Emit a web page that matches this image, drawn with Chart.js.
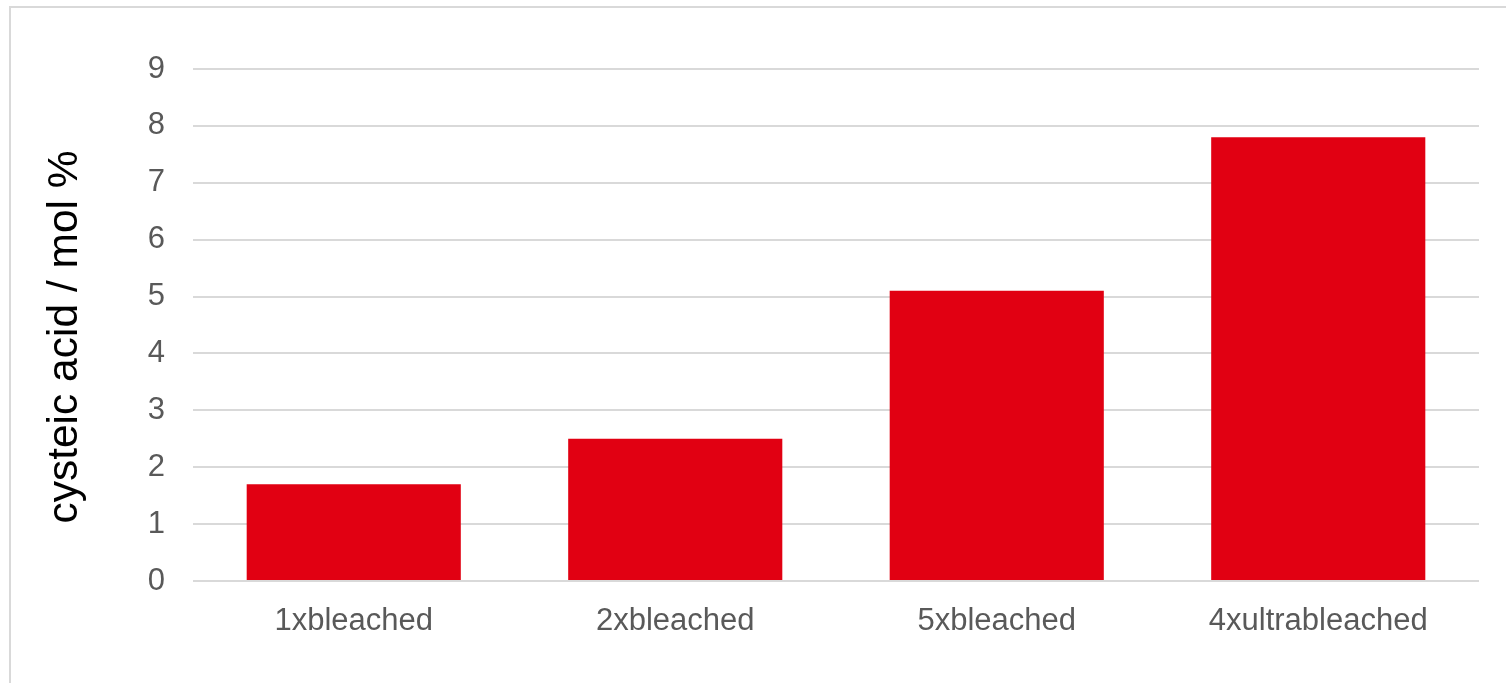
<!DOCTYPE html>
<html>
<head>
<meta charset="utf-8">
<script src="https://cdn.jsdelivr.net/npm/chart.js@4/dist/chart.umd.min.js"></script>
<style>
  html, body { margin: 0; padding: 0; background: #fff; }
  #wrap { position: relative; width: 1506px; height: 683px; overflow: hidden; }
  #frame {
    position: absolute; left: 9px; top: 6px; width: 1520px; height: 700px;
    border: 2px solid #d9d9d9; box-sizing: border-box;
  }
  #chart { position: absolute; left: 0; top: 0; }
</style>
</head>
<body>
<div id="wrap">
  <div id="frame"></div>
  <canvas id="chart" width="1506" height="683"></canvas>
</div>
<script>
// Categories and values
const categories = ['1xbleached', '2xbleached', '5xbleached', '4xultrableached'];
const cysteicAcid = [1.7, 2.5, 5.1, 7.8];
const yTicks = [0, 1, 2, 3, 4, 5, 6, 7, 8, 9];
const yTitle = 'cysteic acid / mol %';

const FONT = '"Liberation Sans", Arial, sans-serif';

// Rotated y-axis title, drawn a little below the plot centre
const yTitlePlugin = {
  id: 'yTitle',
  afterDraw(chart) {
    const c = chart.ctx;
    const area = chart.chartArea;
    c.save();
    c.translate(65, (area.top + area.bottom) / 2 + 12);
    c.rotate(-Math.PI / 2);
    c.font = '42.5px ' + FONT;
    c.fillStyle = '#000';
    c.textAlign = 'center';
    c.textBaseline = 'middle';
    c.fillText(yTitle, 0, 0);
    c.restore();
  }
};

const ctx = document.getElementById('chart').getContext('2d');

new Chart(ctx, {
  type: 'bar',
  data: {
    labels: categories,
    datasets: [{
      data: cysteicAcid,
      backgroundColor: '#e10012',
      borderWidth: 0,
      barPercentage: 0.666,
      categoryPercentage: 1.0
    }]
  },
  options: {
    responsive: false,
    animation: false,
    layout: {
      padding: { left: 40, top: 69, right: 27, bottom: 0 }
    },
    plugins: {
      legend: { display: false },
      tooltip: { enabled: false }
    },
    scales: {
      x: {
        grid: { display: false },
        border: { display: false },
        ticks: {
          color: '#595959',
          padding: 14,
          maxRotation: 0,
          font: { family: FONT, size: 31 }
        },
        afterFit: function(scale) { scale.height = 102; }
      },
      y: {
        min: 0,
        max: 9,
        afterBuildTicks: function(scale) {
          scale.ticks = yTicks.map(v => ({ value: v }));
        },
        grid: {
          color: '#d9d9d9',
          lineWidth: 2,
          drawTicks: false
        },
        border: { display: false },
        ticks: {
          color: '#595959',
          padding: 28,
          font: { family: FONT, size: 31 }
        },
        afterFit: function(scale) { scale.width = 153; }
      }
    }
  },
  plugins: [yTitlePlugin]
});
</script>
</body>
</html>
